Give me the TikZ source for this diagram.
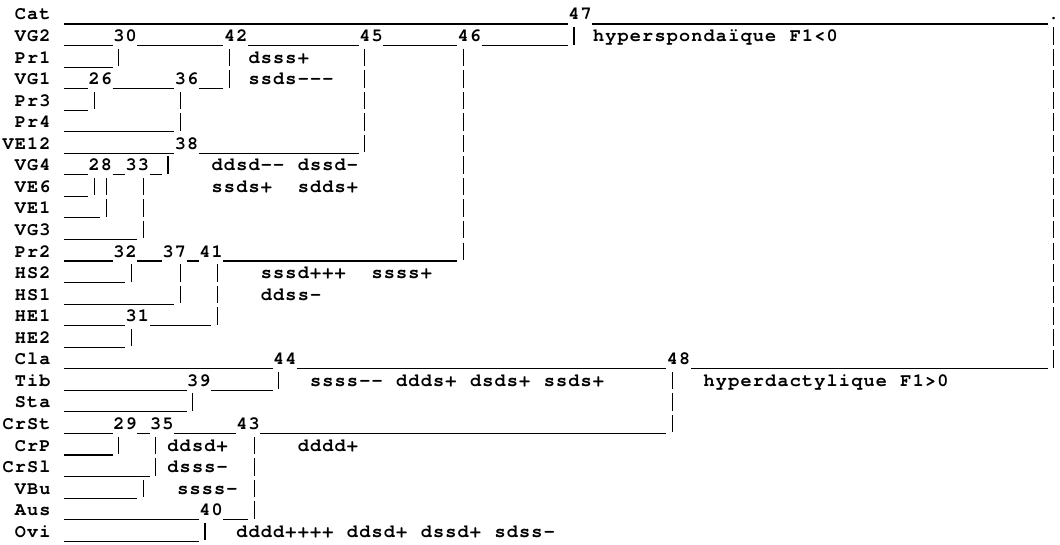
\documentclass[tikz,border=0pt]{standalone}
\usepackage{fontspec}
\newfontfamily\cur{TeX Gyre Cursor}
\ExplSyntaxOn
\NewDocumentCommand\mono{m}{\tl_map_inline:nn {#1} {\makebox[12.3pt][c]{##1}}}
\ExplSyntaxOff
\tikzset{
  ul/.style={line width=1.1pt},
  vbar/.style={line width=1.2pt},
  txt/.style={font=\cur\bfseries\fontsize{18.5}{18.5}\selectfont, anchor=base west, inner sep=0pt, outer sep=0pt},
}
% column c left edge: 2+12.3c ; row r baseline: 20+21.55r
\newcommand\hl[3]{\draw[ul] ({2+12.3*(#2)},{24+21.55*(#1)}) -- ({2+12.3*(#3)},{24+21.55*(#1)});}
\newcommand\vbr[2]{\draw[vbar] ({2+12.3*(#2+0.5)},{5.5+21.55*(#1)}) -- ({2+12.3*(#2+0.5)},{23+21.55*(#1)});}
\newcommand\tx[4]{\node[txt] (#1) at ({2+12.3*(#3)},{20+21.55*(#2)}) {\mono{#4}};}
\begin{document}
\begin{tikzpicture}[x=1pt,y=-1pt]
\useasboundingbox (0,0) rectangle (1060,545);
% row 0
\tx{lCat}{0}{1}{Cat}\hl{0}{5}{46}\tx{m47}{0}{46}{47}\hl{0}{48}{85}\tx{dot}{0}{85}{.}
% row 1
\tx{lVG2}{1}{1}{VG2}\hl{1}{5}{9}\tx{m30}{1}{9}{30}\hl{1}{11}{18}\tx{m42}{1}{18}{42}
\hl{1}{20}{29}\tx{m45}{1}{29}{45}\hl{1}{31}{37}\tx{m46}{1}{37}{46}\hl{1}{39}{46}\vbr{1}{46}
\tx{hs}{1}{48}{hyperspondaïque~F1<0}\vbr{1}{85}
% row 2
\tx{lPr1}{2}{1}{Pr1}\hl{2}{5}{9}\vbr{2}{9}\vbr{2}{18}\tx{a1}{2}{20}{dsss+}\vbr{2}{29}\vbr{2}{37}\vbr{2}{85}
% row 3
\tx{lVG1}{3}{1}{VG1}\hl{3}{5}{7}\tx{m26}{3}{7}{26}\hl{3}{9}{14}\tx{m36}{3}{14}{36}\hl{3}{16}{18}\vbr{3}{18}
\tx{a2}{3}{20}{ssds---}\vbr{3}{29}\vbr{3}{37}\vbr{3}{85}
% row 4
\tx{lPr3}{4}{1}{Pr3}\hl{4}{5}{7}\vbr{4}{7}\vbr{4}{14}\vbr{4}{29}\vbr{4}{37}\vbr{4}{85}
% row 5
\tx{lPr4}{5}{1}{Pr4}\hl{5}{5}{14}\vbr{5}{14}\vbr{5}{29}\vbr{5}{37}\vbr{5}{85}
% row 6
\tx{lVE12}{6}{0}{VE12}\hl{6}{5}{14}\tx{m38}{6}{14}{38}\hl{6}{16}{29}\vbr{6}{29}\vbr{6}{37}\vbr{6}{85}
% row 7
\tx{lVG4}{7}{1}{VG4}\hl{7}{5}{7}\tx{m28}{7}{7}{28}\hl{7}{9}{10}\tx{m33}{7}{10}{33}\hl{7}{12}{13}\vbr{7}{13}
\tx{a3}{7}{17}{ddsd--}\tx{a4}{7}{24}{dssd-}\vbr{7}{37}\vbr{7}{85}
% row 8
\tx{lVE6}{8}{1}{VE6}\hl{8}{5}{7}\vbr{8}{7}\vbr{8}{8}\vbr{8}{11}\tx{a5}{8}{17}{ssds+}\tx{a6}{8}{24}{sdds+}\vbr{8}{37}\vbr{8}{85}
% row 9
\tx{lVE1}{9}{1}{VE1}\hl{9}{5}{8}\vbr{9}{8}\vbr{9}{11}\vbr{9}{37}\vbr{9}{85}
% row 10
\tx{lVG3}{10}{1}{VG3}\hl{10}{5}{11}\vbr{10}{11}\vbr{10}{37}\vbr{10}{85}
% row 11
\tx{lPr2}{11}{1}{Pr2}\hl{11}{5}{9}\tx{m32}{11}{9}{32}\hl{11}{11}{13}\tx{m37}{11}{13}{37}\hl{11}{15}{16}
\tx{m41}{11}{16}{41}\hl{11}{18}{37}\vbr{11}{37}\vbr{11}{85}
% row 12
\tx{lHS2}{12}{1}{HS2}\hl{12}{5}{10}\vbr{12}{10}\vbr{12}{14}\vbr{12}{17}\tx{a7}{12}{21}{sssd+++}\tx{a8}{12}{30}{ssss+}\vbr{12}{85}
% row 13
\tx{lHS1}{13}{1}{HS1}\hl{13}{5}{14}\vbr{13}{14}\vbr{13}{17}\tx{a9}{13}{21}{ddss-}\vbr{13}{85}
% row 14
\tx{lHE1}{14}{1}{HE1}\hl{14}{5}{10}\tx{m31}{14}{10}{31}\hl{14}{12}{17}\vbr{14}{17}\vbr{14}{85}
% row 15
\tx{lHE2}{15}{1}{HE2}\hl{15}{5}{10}\vbr{15}{10}\vbr{15}{85}
% row 16
\tx{lCla}{16}{1}{Cla}\hl{16}{5}{22}\tx{m44}{16}{22}{44}\hl{16}{24}{54}\tx{m48}{16}{54}{48}\hl{16}{56}{85}\vbr{16}{85}
% row 17
\tx{lTib}{17}{1}{Tib}\hl{17}{5}{15}\tx{m39}{17}{15}{39}\hl{17}{17}{22}\vbr{17}{22}
\tx{a10}{17}{25}{ssss--~ddds+~dsds+~ssds+}\vbr{17}{54}\tx{hd}{17}{57}{hyperdactylique~F1>0}
% row 18
\tx{lSta}{18}{1}{Sta}\hl{18}{5}{15}\vbr{18}{15}\vbr{18}{54}
% row 19
\tx{lCrSt}{19}{0}{CrSt}\hl{19}{5}{9}\tx{m29}{19}{9}{29}\hl{19}{11}{12}\tx{m35}{19}{12}{35}\hl{19}{14}{19}
\tx{m43}{19}{19}{43}\hl{19}{21}{54}\vbr{19}{54}
% row 20
\tx{lCrP}{20}{1}{CrP}\hl{20}{5}{9}\vbr{20}{9}\vbr{20}{12}\tx{a11}{20}{13.4}{ddsd+}\vbr{20}{20}\tx{a12}{20}{24}{dddd+}
% row 21
\tx{lCrSl}{21}{0}{CrSl}\hl{21}{5}{12}\vbr{21}{12}\tx{a13}{21}{13.4}{dsss-}\vbr{21}{20}
% row 22
\tx{lVBu}{22}{1}{VBu}\hl{22}{5}{11}\vbr{22}{11}\tx{a14}{22}{14.2}{ssss-}\vbr{22}{20}
% row 23
\tx{lAus}{23}{1}{Aus}\hl{23}{5}{16}\tx{m40}{23}{16}{40}\hl{23}{18}{20}\vbr{23}{20}
% row 24
\tx{lOvi}{24}{1}{Ovi}\hl{24}{5}{16}\vbr{24}{16}\tx{a15}{24}{19}{dddd++++~ddsd+~dssd+~sdss-}
\end{tikzpicture}
\end{document}
